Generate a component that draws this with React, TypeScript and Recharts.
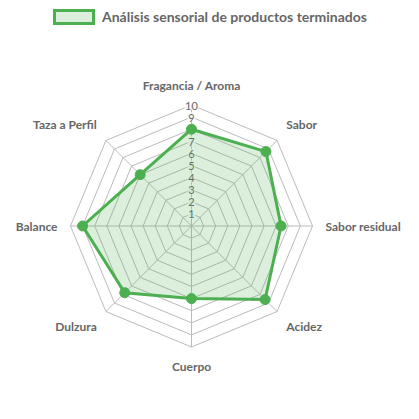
import React from 'react';
import { RadarChart, Radar, PolarGrid, PolarAngleAxis, PolarRadiusAxis } from 'recharts';

const categories = [
  'Fragancia / Aroma',
  'Sabor',
  'Sabor residual',
  'Acidez',
  'Cuerpo',
  'Dulzura',
  'Balance',
  'Taza a Perfil',
];

const scores = [8, 8.7, 7.4, 8.6, 6, 7.8, 9, 6];

const seriesName = 'Análisis sensorial de productos terminados';

const CX = 191.5;
const CY = 226;
const R = 121;
const GREEN = '#4caf50';
const FONT = 'Lato, "Noto Sans", sans-serif';

const chartData = categories.map((c, i) => ({ category: c, score: scores[i] }));

// etiquetas de los ejes, colocadas como en chart.js
const AngleTick = (props: any) => {
  const { payload } = props;
  const a = (payload.coordinate * Math.PI) / 180;
  const cos = Math.cos(a);
  const sin = Math.sin(a);
  const d = R + 13;
  let x = CX + d * cos;
  let y = CY - d * sin;
  if (sin > 0.1) y -= 7;
  else if (sin < -0.1) y += 6;
  const anchor = cos > 0.1 ? 'start' : cos < -0.1 ? 'end' : 'middle';
  return (
    <text
      x={x}
      y={y}
      textAnchor={anchor}
      dominantBaseline="central"
      fill="#666"
      fontSize={12}
      fontWeight="bold"
      fontFamily={FONT}
    >
      {payload.value}
    </text>
  );
};

const RadiusTick = (props: any) => {
  const { x, y, payload } = props;
  if (payload.value === 0) return null;
  const w = String(payload.value).length * 6 + 2;
  return (
    <g>
      <rect x={x - w / 2} y={y - 5} width={w} height={10} fill="rgba(255,255,255,0.75)" />
      <text
        x={x}
        y={y}
        textAnchor="middle"
        dominantBaseline="central"
        fill="#666"
        fontSize={11}
        fontFamily={FONT}
      >
        {payload.value}
      </text>
    </g>
  );
};

export default function App() {
  return (
    <div style={{ position: 'absolute', left: 0, top: 0, width: 419, height: 419, background: '#fff' }}>
      <div
        style={{
          position: 'absolute',
          left: 53,
          top: 8,
          display: 'flex',
          alignItems: 'center',
          fontFamily: FONT,
          fontWeight: 'bold',
          fontSize: 14,
          color: '#666',
          whiteSpace: 'nowrap',
        }}
      >
        <span
          style={{
            display: 'inline-block',
            width: 36,
            height: 10,
            border: `3px solid ${GREEN}`,
            background: 'rgba(76,175,80,0.2)',
            marginRight: 7,
          }}
        />
        {seriesName}
      </div>
      <RadarChart
        width={419}
        height={419}
        data={chartData}
        cx={CX}
        cy={CY}
        outerRadius={R}
        margin={{ top: 0, right: 0, bottom: 0, left: 0 }}
      >
        <PolarGrid gridType="polygon" stroke="#bbb" strokeWidth={1} />
        <PolarAngleAxis dataKey="category" tick={<AngleTick />} tickLine={false} axisLine={false} />
        <PolarRadiusAxis
          angle={90}
          domain={[0, 10]}
          tickCount={11}
          axisLine={false}
          tick={<RadiusTick />}
          zIndex={50}
        />
        <Radar
          name={seriesName}
          dataKey="score"
          stroke={GREEN}
          strokeWidth={3}
          fill={GREEN}
          fillOpacity={0.2}
          dot={{ r: 5, fill: GREEN, stroke: GREEN, strokeWidth: 1, fillOpacity: 1 }}
          isAnimationActive={false}
        />
      </RadarChart>
    </div>
  );
}
